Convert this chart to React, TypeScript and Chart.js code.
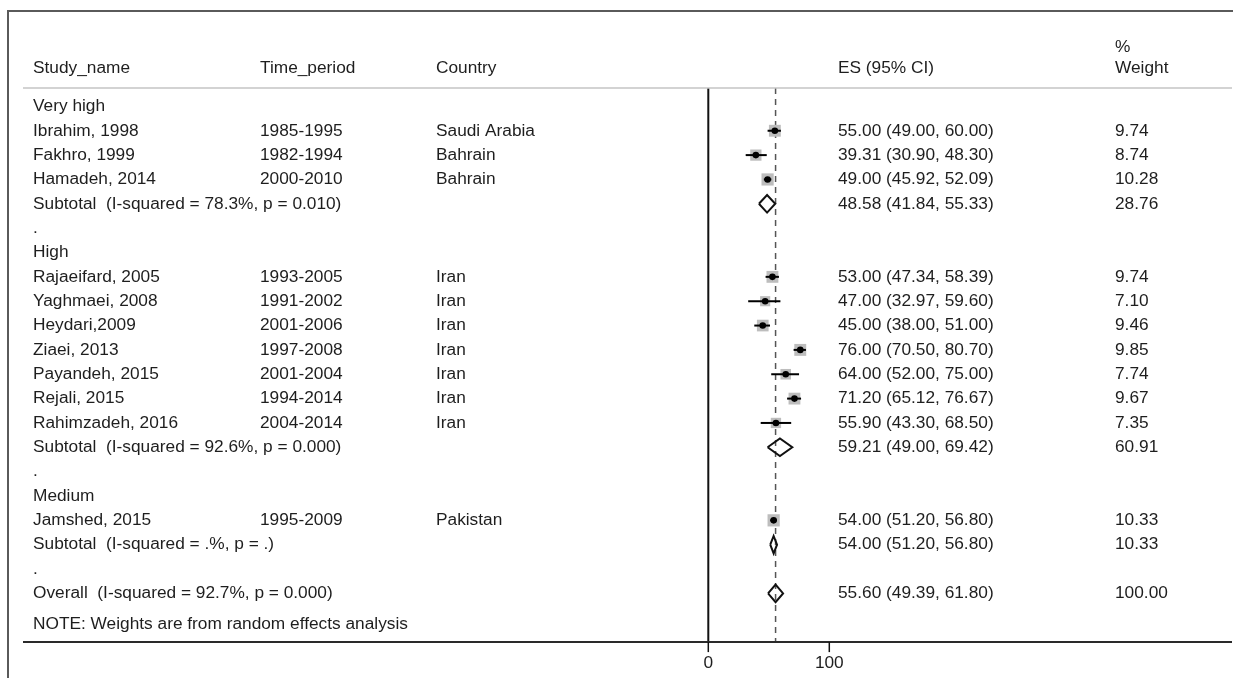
import React, { useEffect, useRef } from 'react';
import { Chart, registerables } from 'chart.js';

Chart.register(...registerables);

// ---------------- data ----------------
const groupNames = ['Very high', 'High', 'Medium'];
const studyNames = [
  'Ibrahim, 1998', 'Fakhro, 1999', 'Hamadeh, 2014',
  'Rajaeifard, 2005', 'Yaghmaei, 2008', 'Heydari,2009', 'Ziaei, 2013', 'Payandeh, 2015', 'Rejali, 2015', 'Rahimzadeh, 2016',
  'Jamshed, 2015',
];
const studyGroup = [0, 0, 0, 1, 1, 1, 1, 1, 1, 1, 2];
const timePeriods = [
  '1985-1995', '1982-1994', '2000-2010',
  '1993-2005', '1991-2002', '2001-2006', '1997-2008', '2001-2004', '1994-2014', '2004-2014',
  '1995-2009',
];
const countries = [
  'Saudi Arabia', 'Bahrain', 'Bahrain',
  'Iran', 'Iran', 'Iran', 'Iran', 'Iran', 'Iran', 'Iran',
  'Pakistan',
];
const effectSizes = [55.0, 39.31, 49.0, 53.0, 47.0, 45.0, 76.0, 64.0, 71.2, 55.9, 54.0];
const ciLow = [49.0, 30.9, 45.92, 47.34, 32.97, 38.0, 70.5, 52.0, 65.12, 43.3, 51.2];
const ciHigh = [60.0, 48.3, 52.09, 58.39, 59.6, 51.0, 80.7, 75.0, 76.67, 68.5, 56.8];
const weights = [9.74, 8.74, 10.28, 9.74, 7.1, 9.46, 9.85, 7.74, 9.67, 7.35, 10.33];

const subtotalLabels = [
  'Subtotal  (I-squared = 78.3%, p = 0.010)',
  'Subtotal  (I-squared = 92.6%, p = 0.000)',
  'Subtotal  (I-squared = .%, p = .)',
];
const subtotalES = [48.58, 59.21, 54.0];
const subtotalLow = [41.84, 49.0, 51.2];
const subtotalHigh = [55.33, 69.42, 56.8];
const subtotalWeights = [28.76, 60.91, 10.33];

const overallLabel = 'Overall  (I-squared = 92.7%, p = 0.000)';
const overallES = 55.6;
const overallLow = 49.39;
const overallHigh = 61.8;
const overallWeight = 100.0;

const noteText = 'NOTE: Weights are from random effects analysis';
const headerLabels = ['Study_name', 'Time_period', 'Country', 'ES (95% CI)', 'Weight'];
const headerTopLabel = '%';
const xTickValues = [0, 100];

// ---------------- layout / style ----------------
const W = 1235;
const H = 678;
const PX_PER_UNIT = 1.21;
const ZERO_PX = 708.3;
const ROW0_PX = 106.4;
const ROW_PX = 24.35;
const X_MIN = -ZERO_PX / PX_PER_UNIT;
const X_MAX = (W - ZERO_PX) / PX_PER_UNIT;
const Y_MIN = -ROW0_PX / ROW_PX;
const Y_MAX = (H - ROW0_PX) / ROW_PX;
const COL_PX = [33, 260, 436, 838, 1115];
const FONT = '17.3px "Liberation Sans", Arial, Helvetica, sans-serif';
const TEXT_COLOR = '#1e1e1e';
const DIAMOND_HALF_ROWS = 0.36;
const SQUARE_K = 3.8;

type Row = { y: number; cells: string[] };

function buildRows() {
  const rows: Row[] = [];
  const studyRow: number[] = [];
  const subtotalRow: number[] = [];
  let r = 0;
  groupNames.forEach((g, gi) => {
    rows.push({ y: r++, cells: [g] });
    studyNames.forEach((s, i) => {
      if (studyGroup[i] !== gi) return;
      studyRow[i] = r;
      rows.push({
        y: r++,
        cells: [
          s,
          timePeriods[i],
          countries[i],
          `${effectSizes[i].toFixed(2)} (${ciLow[i].toFixed(2)}, ${ciHigh[i].toFixed(2)})`,
          weights[i].toFixed(2),
        ],
      });
    });
    subtotalRow[gi] = r;
    rows.push({
      y: r++,
      cells: [
        subtotalLabels[gi],
        '',
        '',
        `${subtotalES[gi].toFixed(2)} (${subtotalLow[gi].toFixed(2)}, ${subtotalHigh[gi].toFixed(2)})`,
        subtotalWeights[gi].toFixed(2),
      ],
    });
    rows.push({ y: r++, cells: ['.'] });
  });
  const overallRow = r;
  rows.push({
    y: r++,
    cells: [
      overallLabel,
      '',
      '',
      `${overallES.toFixed(2)} (${overallLow.toFixed(2)}, ${overallHigh.toFixed(2)})`,
      overallWeight.toFixed(2),
    ],
  });
  const noteRow = r + 0.25;
  const axisRow = r + 1;
  return { rows, studyRow, subtotalRow, overallRow, noteRow, axisRow };
}

export default function App() {
  const canvasRef = useRef<HTMLCanvasElement | null>(null);

  useEffect(() => {
    const canvas = canvasRef.current;
    if (!canvas) return;
    const { rows, studyRow, subtotalRow, overallRow, noteRow, axisRow } = buildRows();
    const headerLineRow = -0.76;
    const headerRow = -1.58;
    const headerTopRow = -2.45;

    const datasets: any[] = [];
    // reference lines
    datasets.push({
      type: 'scatter',
      data: [{ x: 0, y: headerLineRow }, { x: 0, y: axisRow }],
      showLine: true,
      borderColor: '#111',
      borderWidth: 2,
      pointRadius: 0,
      order: 6,
    });
    datasets.push({
      type: 'scatter',
      data: [{ x: overallES, y: headerLineRow }, { x: overallES, y: axisRow }],
      showLine: true,
      borderColor: '#555',
      borderWidth: 1.5,
      borderDash: [6, 5],
      pointRadius: 0,
      order: 5,
    });
    // weight squares
    datasets.push({
      type: 'scatter',
      data: effectSizes.map((v, i) => ({ x: v, y: studyRow[i] })),
      pointStyle: 'rect',
      pointRadius: weights.map((w) => (SQUARE_K * Math.sqrt(w)) / Math.SQRT2),
      backgroundColor: '#bdbdbd',
      borderWidth: 0,
      order: 4,
    });
    // CI lines
    effectSizes.forEach((_, i) => {
      datasets.push({
        type: 'scatter',
        data: [{ x: ciLow[i], y: studyRow[i] }, { x: ciHigh[i], y: studyRow[i] }],
        showLine: true,
        borderColor: '#000',
        borderWidth: 2,
        pointRadius: 0,
        order: 3,
      });
    });
    // point estimates
    datasets.push({
      type: 'scatter',
      data: effectSizes.map((v, i) => ({ x: v, y: studyRow[i] })),
      pointStyle: 'circle',
      pointRadius: 3.3,
      backgroundColor: '#000',
      borderWidth: 0,
      order: 2,
    });
    // diamonds
    const diamond = (es: number, lo: number, hi: number, y: number) => [
      { x: lo, y },
      { x: es, y: y - DIAMOND_HALF_ROWS },
      { x: hi, y },
      { x: es, y: y + DIAMOND_HALF_ROWS },
      { x: lo, y },
    ];
    subtotalES.forEach((v, gi) => {
      datasets.push({
        type: 'scatter',
        data: diamond(v, subtotalLow[gi], subtotalHigh[gi], subtotalRow[gi]),
        showLine: true,
        borderColor: '#111',
        borderWidth: 2,
        pointRadius: 0,
        order: 1,
      });
    });
    datasets.push({
      type: 'scatter',
      data: diamond(overallES, overallLow, overallHigh, overallRow),
      showLine: true,
      borderColor: '#111',
      borderWidth: 2,
      pointRadius: 0,
      order: 1,
    });

    const textPlugin = {
      id: 'forestText',
      afterDraw(chart: any) {
        const ctx = chart.ctx as CanvasRenderingContext2D;
        const xs = chart.scales.x;
        const ys = chart.scales.y;
        ctx.save();
        // frame
        ctx.strokeStyle = '#5a5a5a';
        ctx.lineWidth = 2;
        ctx.beginPath();
        ctx.moveTo(8, H);
        ctx.lineTo(8, 11);
        ctx.lineTo(1233, 11);
        ctx.stroke();
        // header divider
        const hy = ys.getPixelForValue(headerLineRow);
        ctx.strokeStyle = '#c4c4c4';
        ctx.lineWidth = 1.5;
        ctx.beginPath();
        ctx.moveTo(23, hy);
        ctx.lineTo(1232, hy);
        ctx.stroke();
        // axis line
        const ay = ys.getPixelForValue(axisRow);
        ctx.strokeStyle = '#2a2a2a';
        ctx.lineWidth = 2;
        ctx.beginPath();
        ctx.moveTo(23, ay);
        ctx.lineTo(1232, ay);
        ctx.stroke();
        // ticks
        ctx.fillStyle = TEXT_COLOR;
        ctx.font = FONT;
        ctx.textAlign = 'center';
        ctx.textBaseline = 'middle';
        xTickValues.forEach((t) => {
          const px = xs.getPixelForValue(t);
          ctx.strokeStyle = '#111';
          ctx.lineWidth = 1.5;
          ctx.beginPath();
          ctx.moveTo(px, ay);
          ctx.lineTo(px, ay + 10);
          ctx.stroke();
          ctx.fillText(String(t), px, ay + 21);
        });
        // texts
        ctx.textAlign = 'left';
        const hry = ys.getPixelForValue(headerRow);
        headerLabels.forEach((h, i) => ctx.fillText(h, COL_PX[i], hry));
        ctx.fillText(headerTopLabel, COL_PX[4], ys.getPixelForValue(headerTopRow));
        rows.forEach((row) => {
          const py = ys.getPixelForValue(row.y);
          row.cells.forEach((c, i) => {
            if (c) ctx.fillText(c, COL_PX[i], py);
          });
        });
        ctx.fillText(noteText, COL_PX[0], ys.getPixelForValue(noteRow));
        ctx.restore();
      },
    };

    const chart = new Chart(canvas, {
      type: 'scatter',
      data: { datasets },
      options: {
        animation: false,
        responsive: false,
        devicePixelRatio: 1,
        events: [],
        layout: { padding: 0, autoPadding: false },
        plugins: { legend: { display: false }, tooltip: { enabled: false } },
        scales: {
          x: { type: 'linear', display: false, min: X_MIN, max: X_MAX },
          y: { type: 'linear', display: false, reverse: true, min: Y_MIN, max: Y_MAX },
        },
      },
      plugins: [textPlugin],
    });
    return () => chart.destroy();
  }, []);

  return (
    <div style={{ position: 'fixed', left: 0, top: 0, width: W, height: H, background: '#fff' }}>
      <canvas ref={canvasRef} width={W} height={H} style={{ display: 'block', width: W, height: H }} />
    </div>
  );
}
